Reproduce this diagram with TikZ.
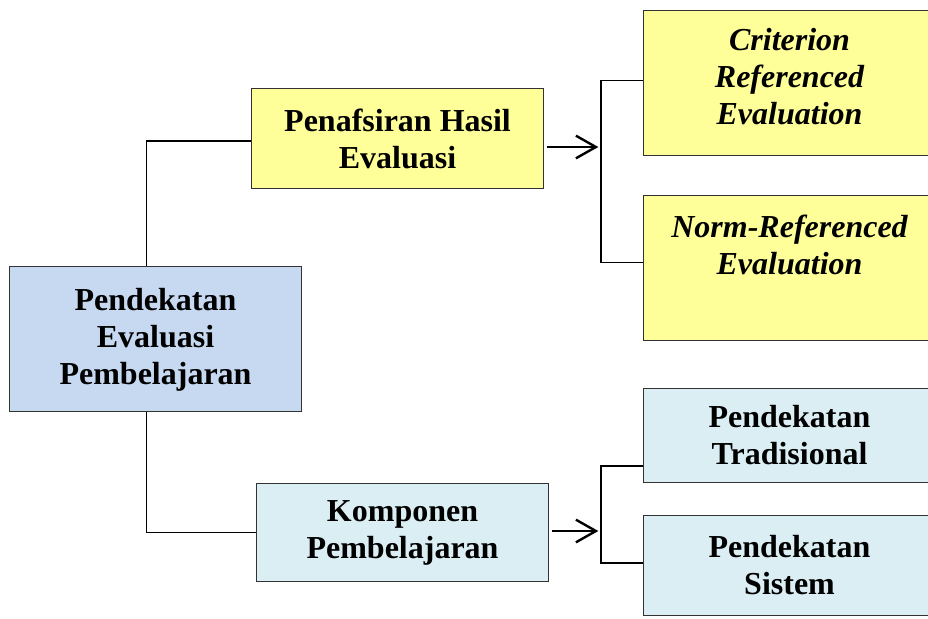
\documentclass[tikz,border=0pt]{standalone}
\usepackage{fontspec}
\setmainfont{Liberation Serif}
\usetikzlibrary{arrows.meta}
\definecolor{mainblue}{HTML}{C6D9F1}
\definecolor{yel}{HTML}{FFFF99}
\definecolor{lblue}{HTML}{DBEEF4}
\begin{document}
\begin{tikzpicture}[x=0.75pt,y=-0.75pt,
  box/.style={draw=black!80,line width=0.8pt,inner sep=0pt,align=center,anchor=north west,
    minimum width=219pt,font=\bfseries\fontsize{24}{27.75}\selectfont},
  itbox/.style={box,fill=yel,font=\bfseries\itshape\fontsize{24}{27.75}\selectfont},
  link/.style={line width=1.1pt},
  arr/.style={line width=1.8pt,-{Straight Barb[length=15pt,width=17pt,line width=1.8pt]}}]
  \useasboundingbox (0,0) rectangle (928,618);

  \node[box,fill=mainblue,minimum height=108.75pt] (pend) at (9,266) {Pendekatan\\Evaluasi\\Pembelajaran\\[-24pt]\mbox{}};
  \node[box,fill=yel,minimum height=75pt] (tafsir) at (251,88) {Penafsiran Hasil\\Evaluasi};
  \node[box,fill=lblue,minimum height=73.5pt] (komp) at (256,483) {Komponen\\Pembelajaran};

  \node[itbox,minimum height=108.75pt] (crit) at (643,10) {Criterion\\Referenced\\Evaluation\\[-18pt]\mbox{}};
  \node[itbox,minimum height=108.75pt] (norm) at (643,195) {Norm-Referenced\\Evaluation\\[7pt]\mbox{}};
  \node[box,fill=lblue,minimum height=70.5pt] (trad) at (643,388) {Pendekatan\\Tradisional};
  \node[box,fill=lblue,minimum height=75pt] (sist) at (643,515) {Pendekatan\\Sistem};

  \coordinate (s1) at (601,147);
  \coordinate (s2) at (601,531);

  \draw[link] ([xshift=-6.75pt]pend.north) |- ([yshift=-2pt]tafsir.west);
  \draw[link] ([xshift=-6.75pt]pend.south) |- (komp.west);

  \draw[arr] ([xshift=2pt]tafsir.east |- s1) -- ([xshift=-2pt]s1);
  \draw[link] ([yshift=2pt]crit.west) -| (s1) |- ([yshift=4pt]norm.west);

  \draw[arr] ([xshift=2pt]komp.east |- s2) -- ([xshift=-2pt]s2);
  \draw[link] ([yshift=-23pt]trad.west) -| (s2) |- ([yshift=2pt]sist.west);
\end{tikzpicture}
\end{document}
